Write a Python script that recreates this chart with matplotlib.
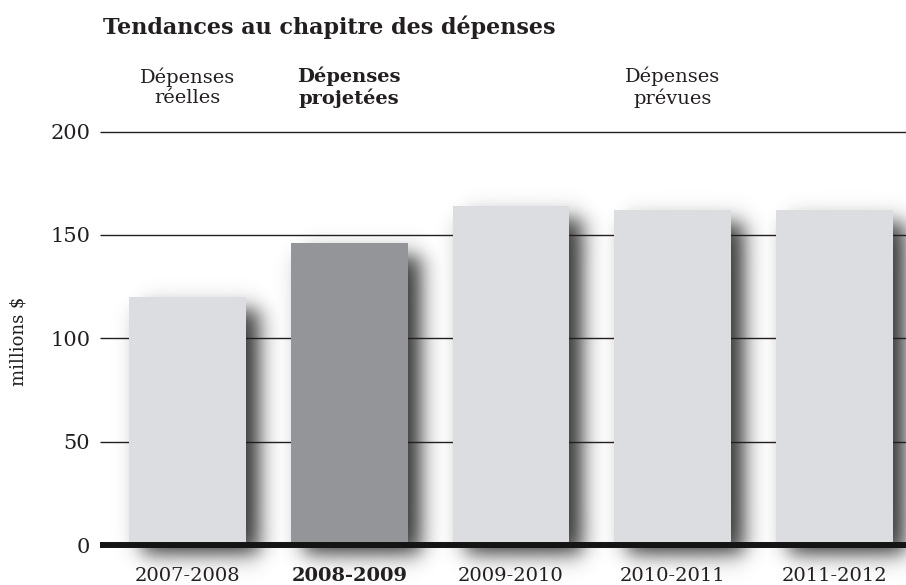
import numpy as np
import matplotlib
matplotlib.use("Agg")
from matplotlib import pyplot as plt

years = ["2007-2008", "2008-2009", "2009-2010", "2010-2011", "2011-2012"]
spending = [120, 146, 164, 162, 162]
barColors = ["#dcdde0", "#939598", "#dcdde0", "#dcdde0", "#dcdde0"]
groupLabels = ["Dépenses\nréelles", "Dépenses\nprojetées", "Dépenses\nprévues"]
groupPos = [0, 1, 3]
yTicks = [0, 50, 100, 150, 200]

plt.rcParams['font.family'] = 'DejaVu Serif'
textColor = "#231f20"

fig = plt.figure(figsize=(9.06, 5.85), dpi=100)
ax = fig.add_axes([100/906, 23/585, 806/906, 437/585])
xmin, xmax = -0.541, 4.442
ymin, ymax = -8.2, 203.2
barWidth = 0.723

# pixels per data unit, used for the blurred drop shadow
pxX = 806 / (xmax - xmin)
pxY = 437 / (ymax - ymin)

def soft(t):
    return 0.5 * (1 + np.tanh(0.8 * t))

offX, offY, blur, strength = 13, 13, 10, 0.8
gx = np.linspace(xmin, xmax + 0.3, 1000)
gy = np.linspace(-25, ymax, 500)
X, Y = np.meshgrid(gx, gy)
Xp, Yp = X * pxX, Y * pxY
shade = np.zeros_like(X)
for i, v in enumerate(spending):
    left = (i - barWidth/2) * pxX + offX
    right = (i + barWidth/2) * pxX + offX
    bottom = -offY + 4
    top = v * pxY - offY
    a = soft((Xp - left)/blur) * soft((right - Xp)/blur) * soft((Yp - bottom)/blur) * soft((top - Yp)/blur)
    shade = np.maximum(shade, a)
img = np.zeros(shade.shape + (4,))
img[..., 3] = strength * shade
im = ax.imshow(img, extent=[gx[0], gx[-1], gy[0], gy[-1]], origin='lower',
               aspect='auto', zorder=1, interpolation='bilinear')
im.set_clip_on(False)

ax.hlines(yTicks[1:], xmin, xmax, color=textColor, lw=1.0, zorder=2)
ax.bar(range(len(years)), spending, width=barWidth, color=barColors, zorder=3)
ax.axhline(0, color="#141414", lw=4.3, zorder=4)

ax.set_xlim(xmin, xmax)
ax.set_ylim(ymin, ymax)
for s in ax.spines.values():
    s.set_visible(False)

ax.set_yticks(yTicks)
ax.tick_params(axis='y', length=0, pad=7, labelsize=15, colors=textColor)
ax.set_xticks(range(len(years)), years)
ax.tick_params(axis='x', length=0, pad=3.6, labelsize=14, colors=textColor)
ax.get_xticklabels()[1].set_fontweight('bold')

for pos, lab in zip(groupPos, groupLabels):
    ax.text(pos, 221.6, lab, ha='center', va='center', fontsize=14, color=textColor,
            linespacing=1.15, fontweight='bold' if pos == 1 else 'normal')

fig.text(103/906, 1 - 34/585, "Tendances au chapitre des dépenses", fontsize=16,
         fontweight='bold', va='baseline', color=textColor)
fig.text(19/906, 1 - 341/585, "millions $", rotation=90, ha='center', va='center',
         fontsize=13, color=textColor)

fig.savefig("out.png", dpi=100)
